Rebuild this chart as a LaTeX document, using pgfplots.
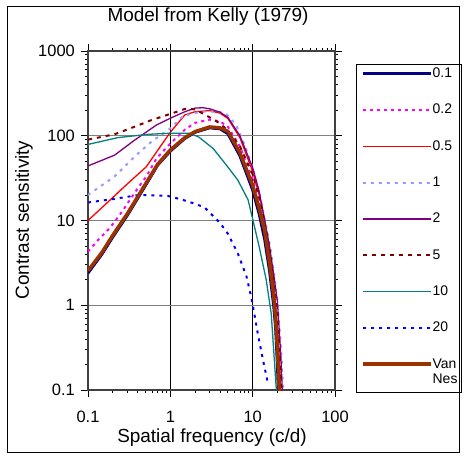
\documentclass[border=0pt]{standalone}
\usepackage{pgfplots}
\pgfplotsset{compat=1.18}
\usepackage{fontspec}
\setmainfont{Liberation Sans}
\definecolor{cNavy}{RGB}{0,0,128}
\definecolor{cMag}{RGB}{255,0,255}
\definecolor{cRed}{RGB}{255,0,0}
\definecolor{cLBlue}{RGB}{153,153,255}
\definecolor{cPurple}{RGB}{128,0,128}
\definecolor{cDRed}{RGB}{128,0,0}
\definecolor{cTeal}{RGB}{0,128,128}
\definecolor{cBlue}{RGB}{0,0,255}
\definecolor{cBrown}{RGB}{153,51,0}
\begin{document}
\begin{tikzpicture}
\useasboundingbox (0,0) rectangle (464bp,456bp);
\begin{axis}[
  at={(88bp,66bp)}, anchor=south west,
  scale only axis, width=247bp, height=339bp,
  xmode=log, ymode=log,
  xmin=0.1, xmax=100, ymin=0.1, ymax=1000,
  xtick={0.1,1,10,100}, xticklabels={0.1,1,10,100},
  ytick={0.1,1,10,100,1000}, yticklabels={0.1,1,10,100,1000},
  minor tick num=0, minor xtick={}, minor ytick={},
  tick align=outside, major tick length=7bp,
  tick style={black, line width=0.8pt},
  tick label style={font=\fontsize{16.5}{18}\selectfont, inner sep=0pt},
  xticklabel style={yshift=-14bp},
  yticklabel style={xshift=-6bp},
  xmajorgrids, ymajorgrids,
  x grid style={black, line width=0.8pt},
  y grid style={gray, line width=1.4pt},
  axis line style={black!75, line width=1.4pt},
  title={Model from Kelly (1979)},
  title style={font=\fontsize{19}{22}\selectfont, at={(0.486,1.083)}, anchor=center},
  xlabel={Spatial frequency (c/d)},
  xlabel style={font=\fontsize{19}{22}\selectfont, at={(0.502,-0.1416)}, anchor=center},
  ylabel={Contrast sensitivity},
  ylabel style={font=\fontsize{19}{22}\selectfont, at={(-0.259,0.5015)}, anchor=center, rotate=0},
  legend style={at={(1.085,0.9617)}, anchor=north west, draw=none, fill=none,
    font=\fontsize{14}{16}\selectfont, inner xsep=5bp, inner ysep=4bp,
    row sep=25.3bp, nodes={inner sep=0pt, text height=9.5bp},
    /tikz/every even column/.append style={column sep=2bp}},
  legend cell align=left,
  legend image code/.code={\draw[#1] (0bp,0bp) -- (68bp,0bp);},
]
\addplot[cNavy, line width=3pt] coordinates {
(0.1,2.4) (0.15,4.1) (0.2,6.4) (0.3,11.5) (0.5,26) (0.7,45) (1,66) (1.5,93) (2,110) (3,124) (4,121) (5,106) (7,58) (10,23) (12,12) (14,6) (16,2.6) (18,1.0) (19,0.55) (20,0.2) (20.5,0.1) (21,0.05)};
\addplot[cMag, line width=2pt, dash pattern=on 3bp off 4bp] coordinates {
(0.1,4.3) (0.133,5.9) (0.185,8.2) (0.256,12.5) (0.41,24.7) (0.51,33) (0.68,54) (1,81) (1.5,118) (2,142) (3,155) (4,148) (5,128) (7,75) (10,31) (12,17) (14,9) (16,4) (18,1.6) (20,0.5) (21,0.2) (22,0.08)};
\addplot[cRed, line width=1.3pt] coordinates {
(0.1,10) (0.21,19.5) (0.3,27) (0.51,43) (0.7,67) (1,110) (1.5,176) (2,192) (3,198) (4,185) (5,160) (7,95) (10,38) (12,20) (14,10) (16,4.5) (18,1.8) (20,0.55) (21,0.25) (22,0.1) (22.5,0.06)};
\addplot[cLBlue, line width=2pt, dash pattern=on 3bp off 5bp] coordinates {
(0.1,20) (0.21,33) (0.37,57) (0.59,85) (1,122) (1.43,171) (2,186) (2.5,192) (3,193) (4,190) (4.8,180) (6.3,134) (8,78) (10,42) (12,22) (14,10.5) (16,5.5) (18,2.6) (20,1.1) (22,0.35) (23.5,0.1)};
\addplot[cPurple, line width=1.3pt] coordinates {
(0.1,44) (0.21,59) (0.37,89) (0.68,134) (1,161) (1.5,192) (2,212) (2.5,214) (3,208) (4,190) (5,165) (7,100) (10,42) (12,22) (14,10) (16,5) (18,2.3) (20,1.1) (22,0.25) (23,0.09)};
\addplot[cDRed, line width=2pt, dash pattern=on 4bp off 5bp] coordinates {
(0.1,90) (0.21,104) (0.37,128) (0.59,153) (1,181) (1.5,207) (2,205) (3,165) (4,140) (5,115) (7,75) (10,35) (12,19) (14,9.5) (16,4.5) (18,2) (20,0.7) (21,0.35) (22,0.12) (22.5,0.07)};
\addplot[cTeal, line width=1.3pt] coordinates {
(0.1,79) (0.23,95) (0.54,104) (1,107) (1.7,107) (2.2,97) (3.3,71) (4.8,45) (6.6,30) (8.8,17.5) (10.1,10) (12,4.9) (14.6,2) (16.8,0.8) (19.4,0.1) (20,0.07)};
\addplot[cBlue, line width=2pt, dash pattern=on 3bp off 5bp] coordinates {
(0.1,16.3) (0.21,18) (0.41,20) (0.93,19.5) (1.37,17.7) (1.9,16) (2.6,14.3) (4,9.4) (5,7) (6.6,4.1) (8.4,2.2) (9.6,1.26) (10.1,0.97) (11.6,0.45) (13.3,0.23) (14.6,0.15) (15.3,0.12)};
\addplot[cBrown, line width=3.5pt] coordinates {
(0.1,2.55) (0.15,4.3) (0.2,6.7) (0.3,12) (0.5,27) (0.7,46) (1,68) (1.5,95) (2,112) (3,127) (4,124) (5,113) (7,63) (10,26) (12,14) (14,7.5) (16,3.2) (18,1.3) (19,0.7) (20,0.3) (21,0.1) (21.5,0.06)};
\legend{0.1,0.2,0.5,1,2,5,10,20,{\begin{tabular}[t]{@{}l@{}}Van\\Nes\end{tabular}}}
\node[font=\fontsize{13.5}{16}\selectfont] at (axis description cs:1.375,1.018) {Omega (Hz)};
\end{axis}
\draw[black, line width=0.8pt] (356bp,64bp) rectangle (461bp,392bp);
\draw[black, line width=0.8pt] (7bp,4bp) rectangle (459bp,450bp);
\end{tikzpicture}
\end{document}
